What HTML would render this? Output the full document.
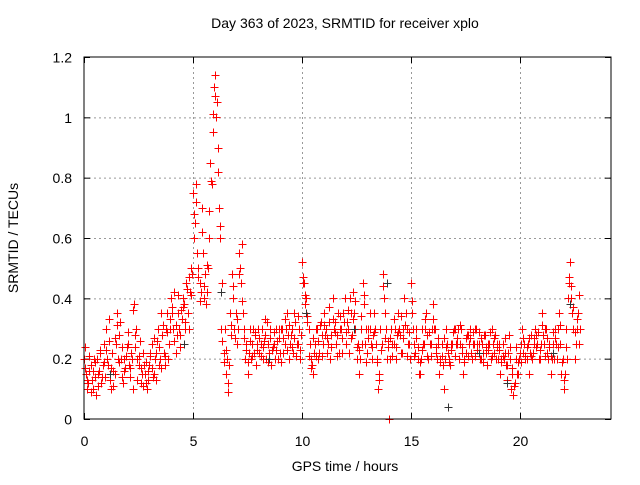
<!DOCTYPE html>
<html><head><meta charset="utf-8"><style>
body{margin:0;background:#fff}
svg text{font-family:"Liberation Sans",sans-serif;font-size:14px;fill:#000}
</style></head><body>
<svg width="640" height="480" viewBox="0 0 640 480" id="c">
<text x="345" y="28" text-anchor="middle">Day 363 of 2023, SRMTID for receiver xplo</text>
<text x="345" y="471" text-anchor="middle">GPS time / hours</text>
<text transform="translate(18,238) rotate(-90)" text-anchor="middle">SRMTID / TECUs</text>
<g id="grid"></g>
<g id="ticks"></g>
<path id="redPts" fill="none" stroke="#ff0000" stroke-width="1" shape-rendering="crispEdges"/>
<path id="blkPts" fill="none" stroke="#333" stroke-width="1" shape-rendering="crispEdges"/>
<rect x="84" y="57" width="527" height="362" fill="none" stroke="#000" stroke-width="1"/>
</svg>
<script>
const xTicks=[0,5,10,15,20];
const yTicks=[0,0.2,0.4,0.6,0.8,1,1.2];
const yTickLabels=["0","0.2","0.4","0.6","0.8","1","1.2"];
const seriesA=[0.2,0.15,0.12,0.18,0.1,0.14,0.2,0.16,0.12,0.25,
0.3,0.18,0.13,0.22,0.15,0.35,0.28,0.2,0.12,0.17,
0.25,0.14,0.2,0.38,0.3,0.18,0.12,0.22,0.15,0.1,
0.18,0.25,0.15,0.22,0.3,0.2,0.28,0.18,0.35,0.25,
0.4,0.3,0.22,0.35,0.28,0.33,0.38,0.45,0.3,0.5,
0.75,0.65,0.55,0.45,0.7,0.4,0.38,0.5,0.85,0.95,
1.14,1.05,0.7,0.3,0.22,0.15,0.12,0.35,0.48,0.3,
0.25,0.55,0.45,0.35,0.2,0.15,0.3,0.25,0.22,0.18,
0.3,0.25,0.2,0.28,0.32,0.22,0.18,0.25,0.3,0.2,
0.22,0.3,0.25,0.35,0.2,0.28,0.22,0.32,0.25,0.2,
0.52,0.45,0.4,0.3,0.2,0.15,0.25,0.3,0.22,0.28,
0.35,0.3,0.25,0.2,0.4,0.32,0.28,0.22,0.3,0.35,
0.25,0.3,0.4,0.28,0.35,0.2,0.15,0.3,0.45,0.25,
0.22,0.3,0.2,0.35,0.25,0.1,0.3,0.48,0.35,0.2,
0.0,0.3,0.25,0.2,0.35,0.28,0.22,0.4,0.3,0.25,
0.45,0.3,0.22,0.2,0.15,0.3,0.25,0.35,0.2,0.25,
0.38,0.3,0.2,0.15,0.25,0.1,0.3,0.22,0.18,0.25,
0.3,0.25,0.2,0.3,0.15,0.22,0.28,0.3,0.2,0.25,
0.3,0.25,0.2,0.22,0.28,0.18,0.25,0.3,0.22,0.2,
0.2,0.15,0.25,0.22,0.18,0.28,0.1,0.08,0.2,0.15,
0.22,0.3,0.25,0.2,0.15,0.28,0.22,0.3,0.25,0.2,
0.35,0.25,0.3,0.2,0.15,0.25,0.3,0.2,0.35,0.15,
0.1,0.3,0.4,0.52,0.35,0.2,0.3,0.25];
const seriesB=[0.24,0.1,0.16,0.13,0.2,0.08,0.15,0.22,0.18,0.14,
0.2,0.26,0.1,0.16,0.25,0.2,0.32,0.14,0.2,0.24,
0.18,0.22,0.1,0.28,0.2,0.26,0.15,0.18,0.12,0.16,
0.22,0.14,0.2,0.26,0.18,0.35,0.22,0.3,0.2,0.3,
0.35,0.42,0.28,0.3,0.36,0.4,0.3,0.35,0.42,0.48,
0.6,0.78,0.5,0.42,0.55,0.48,0.42,0.6,0.78,1.1,
1.0,0.9,0.6,0.45,0.3,0.2,0.18,0.28,0.4,0.35,
0.3,0.5,0.58,0.3,0.25,0.22,0.2,0.3,0.28,0.25,
0.22,0.3,0.26,0.2,0.25,0.3,0.24,0.2,0.26,0.3,
0.3,0.22,0.3,0.28,0.25,0.3,0.35,0.25,0.3,0.28,
0.45,0.38,0.32,0.25,0.18,0.22,0.3,0.2,0.32,0.25,
0.28,0.22,0.32,0.28,0.3,0.25,0.35,0.3,0.22,0.4,
0.32,0.22,0.35,0.42,0.3,0.25,0.2,0.25,0.38,0.3,
0.3,0.25,0.28,0.3,0.2,0.15,0.25,0.4,0.3,0.26,
0.2,0.25,0.3,0.28,0.3,0.22,0.3,0.35,0.25,0.2,
0.35,0.25,0.3,0.15,0.2,0.25,0.3,0.28,0.25,0.3,
0.3,0.22,0.25,0.2,0.18,0.2,0.25,0.2,0.25,0.3,
0.25,0.3,0.25,0.22,0.2,0.28,0.25,0.22,0.25,0.3,
0.25,0.2,0.25,0.28,0.22,0.25,0.2,0.25,0.28,0.25,
0.25,0.2,0.2,0.18,0.22,0.2,0.15,0.12,0.15,0.2,
0.25,0.22,0.2,0.25,0.22,0.2,0.25,0.28,0.2,0.25,
0.28,0.3,0.22,0.25,0.2,0.2,0.25,0.3,0.25,0.2,
0.15,0.2,0.45,0.4,0.3,0.25,0.35,0.3];
const seriesC=[0.17,0.13,0.21,0.09,0.16,0.19,0.11,0.23,0.14,0.19,
0.23,0.33,0.17,0.11,0.27,0.31,0.19,0.24,0.16,0.21,
0.29,0.17,0.36,0.24,0.13,0.21,0.17,0.11,0.19,0.13,
0.21,0.17,0.27,0.13,0.24,0.17,0.31,0.21,0.29,0.33,
0.37,0.26,0.31,0.41,0.24,0.37,0.32,0.43,0.47,0.41,
0.68,0.72,0.47,0.39,0.62,0.44,0.51,0.69,0.79,1.01,
1.07,0.82,0.64,0.26,0.19,0.23,0.09,0.31,0.44,0.27,
0.33,0.48,0.39,0.27,0.23,0.19,0.26,0.21,0.29,0.23,
0.27,0.21,0.24,0.33,0.19,0.27,0.23,0.29,0.23,0.27,
0.19,0.27,0.33,0.23,0.31,0.24,0.27,0.21,0.34,0.23,
0.47,0.41,0.34,0.21,0.17,0.27,0.21,0.26,0.31,0.21,
0.31,0.27,0.37,0.24,0.33,0.29,0.21,0.34,0.27,0.32,
0.29,0.36,0.27,0.33,0.39,0.24,0.23,0.34,0.41,0.19,
0.27,0.35,0.24,0.29,0.19,0.13,0.23,0.44,0.27,0.24,
0.27,0.21,0.33,0.24,0.29,0.34,0.27,0.31,0.21,0.29,
0.39,0.21,0.27,0.24,0.19,0.23,0.33,0.21,0.29,0.21,
0.33,0.24,0.27,0.19,0.21,0.27,0.24,0.19,0.23,0.29,
0.21,0.27,0.31,0.24,0.19,0.27,0.21,0.27,0.29,0.21,
0.23,0.29,0.27,0.19,0.24,0.23,0.29,0.21,0.27,0.24,
0.23,0.19,0.21,0.27,0.13,0.24,0.17,0.11,0.24,0.19,
0.19,0.27,0.21,0.24,0.27,0.21,0.27,0.24,0.29,0.23,
0.31,0.21,0.27,0.24,0.21,0.29,0.27,0.24,0.31,0.19,
0.13,0.24,0.47,0.44,0.37,0.29,0.33,0.41];
const seriesBlack=[[1.2,0.15],[4.6,0.25],[6.3,0.42],[8.5,0.2],[10.2,0.35],[12.4,0.3],[13.9,0.45],[16.7,0.04],[18.1,0.22],[19.4,0.12],[21.5,0.22],[22.3,0.38]];
const step=0.1;
const X0=84,X1=611,XMAX=(611-84)/21.8,Y0=419,Y1=57,YMAX=1.2;
const sx=v=>X0+v/XMAX*(X1-X0), sy=v=>Y0-v/YMAX*(Y0-Y1);
const NS="http://www.w3.org/2000/svg";
const grid=document.getElementById('grid'),ticks=document.getElementById('ticks');
function ln(g,x1,y1,x2,y2,st,da,name){const l=document.createElementNS(NS,'line');
l.setAttribute('x1',x1);l.setAttribute('y1',y1);l.setAttribute('x2',x2);l.setAttribute('y2',y2);
l.setAttribute('stroke',st);if(da)l.setAttribute('stroke-dasharray',da);


g.appendChild(l);}
function tx(x,y,s,a,name){const t=document.createElementNS(NS,'text');t.setAttribute('x',x);t.setAttribute('y',y);t.setAttribute('text-anchor',a);t.textContent=s;


ticks.appendChild(t);}
xTicks.forEach(v=>{const x=sx(v)+0.5;if(v>0)ln(grid,x,Y1,x,Y0,'#999','2,3','x-grid-line');
ln(ticks,x,Y0,x,Y0-6,'#000',null,'x-tick');ln(ticks,x,Y1,x,Y1+6,'#000',null,'x-tick');tx(x,446,String(v),'middle','x-tick-label');});
yTicks.forEach((v,i)=>{const y=sy(v)+0.5;if(v>0&&v<YMAX)ln(grid,X0,y,X1,y,'#999','2,3','y-grid-line');
ln(ticks,X0,y,X0+6,y,'#000',null,'y-tick');ln(ticks,X1,y,X1-6,y,'#000',null,'y-tick');tx(72,y+5,yTickLabels[i],'end','y-tick-label');});
function cross(x,y){x=Math.round(x)+0.5;y=Math.round(y)+0.5;return `M${x-4} ${y}h8M${x} ${y-4}v8`;}
let d='';
seriesA.forEach((v,i)=>{d+=cross(sx(i*step),sy(v));});
seriesB.forEach((v,i)=>{d+=cross(sx(i*step+step/2),sy(v));});
seriesC.forEach((v,i)=>{d+=cross(sx(i*step+step*0.25),sy(v));});
document.getElementById('redPts').setAttribute('d',d);
let db='';seriesBlack.forEach(p=>{db+=cross(sx(p[0]),sy(p[1]));});
document.getElementById('blkPts').setAttribute('d',db);
</script>
</body></html>
